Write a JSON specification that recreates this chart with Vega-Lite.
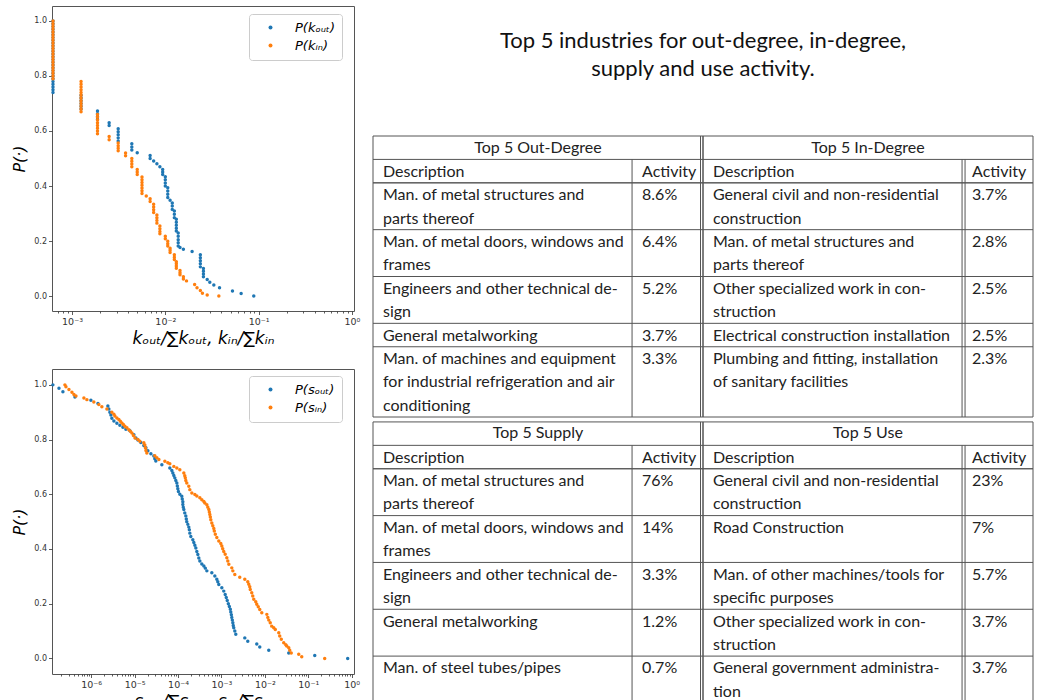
{
  "$schema": "https://vega.github.io/schema/vega-lite/v6.json",
  "background": "white",
  "padding": {"left": 11, "top": 5, "right": 0, "bottom": 0},
  "config": {
    "font": "DejaVu Sans",
    "axis": {
      "domain": false, "grid": false,
      "labelFont": "DejaVu Sans", "labelFontSize": 8, "labelColor": "#333",
      "tickColor": "#333", "tickWidth": 0.8, "labelPadding": 2,
      "labelOverlap": false, "labelFlush": false,
      "titleFont": "DejaVu Sans", "titleFontStyle": "italic", "titleFontWeight": "normal",
      "titleColor": "#000"
    },
    "legend": {
      "orient": "none", "title": null,
      "labelFont": "DejaVu Sans", "labelFontStyle": "italic", "labelFontSize": 13, "labelColor": "#000",
      "symbolType": "circle", "symbolSize": 16, "symbolStrokeWidth": 0,
      "strokeColor": "#ccc", "fillColor": "#fff", "cornerRadius": 3,
      "padding": 7, "rowPadding": 4, "symbolOffset": 8, "labelOffset": 18
    }
  },
  "datasets": {
    "kdeg": [
      {"s":"out","x":0.000625,"y":1},{"s":"out","x":0.000625,"y":0.99},{"s":"out","x":0.000625,"y":0.98},{"s":"out","x":0.000625,"y":0.97},{"s":"out","x":0.000625,"y":0.96},{"s":"out","x":0.000625,"y":0.95},{"s":"out","x":0.000625,"y":0.94},{"s":"out","x":0.000625,"y":0.93},{"s":"out","x":0.000625,"y":0.92},{"s":"out","x":0.000625,"y":0.91},{"s":"out","x":0.000625,"y":0.9},{"s":"out","x":0.000625,"y":0.89},{"s":"out","x":0.000625,"y":0.88},{"s":"out","x":0.000625,"y":0.87},{"s":"out","x":0.000625,"y":0.86},{"s":"out","x":0.000625,"y":0.85},{"s":"out","x":0.000625,"y":0.84},{"s":"out","x":0.000625,"y":0.83},{"s":"out","x":0.000625,"y":0.82},{"s":"out","x":0.000625,"y":0.81},{"s":"out","x":0.000625,"y":0.8},{"s":"out","x":0.000625,"y":0.79},{"s":"out","x":0.000625,"y":0.78},{"s":"out","x":0.000625,"y":0.77},{"s":"out","x":0.000625,"y":0.76},{"s":"out","x":0.000625,"y":0.75},{"s":"out","x":0.000625,"y":0.74},
      {"s":"out","x":0.00125,"y":0.73},{"s":"out","x":0.00125,"y":0.72},{"s":"out","x":0.00125,"y":0.71},{"s":"out","x":0.00125,"y":0.7},{"s":"out","x":0.00125,"y":0.69},{"s":"out","x":0.00125,"y":0.68},
      {"s":"out","x":0.001875,"y":0.673},{"s":"out","x":0.001875,"y":0.663},{"s":"out","x":0.001875,"y":0.653},{"s":"out","x":0.001875,"y":0.643},
      {"s":"out","x":0.0025,"y":0.63},{"s":"out","x":0.0025,"y":0.62},
      {"s":"out","x":0.003125,"y":0.608},{"s":"out","x":0.003125,"y":0.597},{"s":"out","x":0.003125,"y":0.586},{"s":"out","x":0.003125,"y":0.575},{"s":"out","x":0.003125,"y":0.564},
      {"s":"out","x":0.004375,"y":0.554},{"s":"out","x":0.004375,"y":0.542},{"s":"out","x":0.004375,"y":0.531},
      {"s":"out","x":0.005,"y":0.521},
      {"s":"out","x":0.006875,"y":0.511},{"s":"out","x":0.006875,"y":0.5},
      {"s":"out","x":0.0075,"y":0.491},
      {"s":"out","x":0.008125,"y":0.481},
      {"s":"out","x":0.00875,"y":0.47},
      {"s":"out","x":0.009375,"y":0.46},{"s":"out","x":0.009375,"y":0.451},{"s":"out","x":0.009375,"y":0.442},
      {"s":"out","x":0.01,"y":0.434},{"s":"out","x":0.01,"y":0.423},{"s":"out","x":0.01,"y":0.411},{"s":"out","x":0.01,"y":0.4},
      {"s":"out","x":0.010625,"y":0.394},{"s":"out","x":0.010625,"y":0.382},{"s":"out","x":0.010625,"y":0.37},{"s":"out","x":0.010625,"y":0.358},
      {"s":"out","x":0.01125,"y":0.348},
      {"s":"out","x":0.011875,"y":0.338},{"s":"out","x":0.011875,"y":0.327},{"s":"out","x":0.011875,"y":0.315},
      {"s":"out","x":0.0125,"y":0.309},{"s":"out","x":0.0125,"y":0.297},{"s":"out","x":0.0125,"y":0.285},
      {"s":"out","x":0.013125,"y":0.279},{"s":"out","x":0.013125,"y":0.268},{"s":"out","x":0.013125,"y":0.257},{"s":"out","x":0.013125,"y":0.246},{"s":"out","x":0.013125,"y":0.236},
      {"s":"out","x":0.01375,"y":0.229},{"s":"out","x":0.01375,"y":0.217},{"s":"out","x":0.01375,"y":0.205},{"s":"out","x":0.01375,"y":0.194},{"s":"out","x":0.01375,"y":0.182},
      {"s":"out","x":0.014375,"y":0.176},
      {"s":"out","x":0.015625,"y":0.17},
      {"s":"out","x":0.019375,"y":0.162},
      {"s":"out","x":0.02375,"y":0.15},{"s":"out","x":0.02375,"y":0.139},{"s":"out","x":0.02375,"y":0.128},{"s":"out","x":0.02375,"y":0.117},{"s":"out","x":0.02375,"y":0.106},
      {"s":"out","x":0.025625,"y":0.1},{"s":"out","x":0.025625,"y":0.09},{"s":"out","x":0.025625,"y":0.08},{"s":"out","x":0.025625,"y":0.07},
      {"s":"out","x":0.028125,"y":0.06},
      {"s":"out","x":0.03,"y":0.05},
      {"s":"out","x":0.033125,"y":0.04},
      {"s":"out","x":0.038125,"y":0.03},
      {"s":"out","x":0.0525,"y":0.018},
      {"s":"out","x":0.065,"y":0.009},
      {"s":"out","x":0.08875,"y":0},
      {"s":"in","x":0.000625,"y":1},{"s":"in","x":0.000625,"y":0.99},{"s":"in","x":0.000625,"y":0.98},{"s":"in","x":0.000625,"y":0.97},{"s":"in","x":0.000625,"y":0.96},{"s":"in","x":0.000625,"y":0.95},{"s":"in","x":0.000625,"y":0.94},{"s":"in","x":0.000625,"y":0.93},{"s":"in","x":0.000625,"y":0.92},{"s":"in","x":0.000625,"y":0.91},{"s":"in","x":0.000625,"y":0.9},{"s":"in","x":0.000625,"y":0.89},{"s":"in","x":0.000625,"y":0.88},{"s":"in","x":0.000625,"y":0.87},{"s":"in","x":0.000625,"y":0.86},{"s":"in","x":0.000625,"y":0.85},{"s":"in","x":0.000625,"y":0.84},{"s":"in","x":0.000625,"y":0.83},{"s":"in","x":0.000625,"y":0.82},{"s":"in","x":0.000625,"y":0.81},{"s":"in","x":0.000625,"y":0.8},{"s":"in","x":0.000625,"y":0.79},
      {"s":"in","x":0.00125,"y":0.78},{"s":"in","x":0.00125,"y":0.77},{"s":"in","x":0.00125,"y":0.76},{"s":"in","x":0.00125,"y":0.75},{"s":"in","x":0.00125,"y":0.74},{"s":"in","x":0.00125,"y":0.73},{"s":"in","x":0.00125,"y":0.72},{"s":"in","x":0.00125,"y":0.71},{"s":"in","x":0.00125,"y":0.7},{"s":"in","x":0.00125,"y":0.69},{"s":"in","x":0.00125,"y":0.68},{"s":"in","x":0.00125,"y":0.67},
      {"s":"in","x":0.001875,"y":0.66},{"s":"in","x":0.001875,"y":0.65},{"s":"in","x":0.001875,"y":0.64},{"s":"in","x":0.001875,"y":0.63},{"s":"in","x":0.001875,"y":0.62},{"s":"in","x":0.001875,"y":0.61},{"s":"in","x":0.001875,"y":0.6},{"s":"in","x":0.001875,"y":0.59},
      {"s":"in","x":0.0025,"y":0.58},{"s":"in","x":0.0025,"y":0.568},
      {"s":"in","x":0.003125,"y":0.556},{"s":"in","x":0.003125,"y":0.546},{"s":"in","x":0.003125,"y":0.537},{"s":"in","x":0.003125,"y":0.528},
      {"s":"in","x":0.00375,"y":0.52},{"s":"in","x":0.00375,"y":0.51},
      {"s":"in","x":0.004375,"y":0.5},{"s":"in","x":0.004375,"y":0.49},{"s":"in","x":0.004375,"y":0.48},{"s":"in","x":0.004375,"y":0.47},
      {"s":"in","x":0.005,"y":0.46},{"s":"in","x":0.005,"y":0.451},{"s":"in","x":0.005,"y":0.442},
      {"s":"in","x":0.005625,"y":0.433},{"s":"in","x":0.005625,"y":0.423},{"s":"in","x":0.005625,"y":0.413},{"s":"in","x":0.005625,"y":0.403},{"s":"in","x":0.005625,"y":0.393},{"s":"in","x":0.005625,"y":0.383},{"s":"in","x":0.005625,"y":0.373},
      {"s":"in","x":0.00625,"y":0.364},
      {"s":"in","x":0.006875,"y":0.354},{"s":"in","x":0.006875,"y":0.344},
      {"s":"in","x":0.0075,"y":0.334},{"s":"in","x":0.0075,"y":0.324},{"s":"in","x":0.0075,"y":0.314},{"s":"in","x":0.0075,"y":0.304},
      {"s":"in","x":0.008125,"y":0.295},{"s":"in","x":0.008125,"y":0.285},{"s":"in","x":0.008125,"y":0.275},{"s":"in","x":0.008125,"y":0.265},
      {"s":"in","x":0.00875,"y":0.255},{"s":"in","x":0.00875,"y":0.245},{"s":"in","x":0.00875,"y":0.235},{"s":"in","x":0.00875,"y":0.226},
      {"s":"in","x":0.01,"y":0.217},{"s":"in","x":0.01,"y":0.208},
      {"s":"in","x":0.010625,"y":0.199},{"s":"in","x":0.010625,"y":0.19},{"s":"in","x":0.010625,"y":0.182},
      {"s":"in","x":0.01125,"y":0.174},{"s":"in","x":0.01125,"y":0.166},{"s":"in","x":0.01125,"y":0.158},
      {"s":"in","x":0.0125,"y":0.15},{"s":"in","x":0.0125,"y":0.141},{"s":"in","x":0.0125,"y":0.133},
      {"s":"in","x":0.013125,"y":0.125},{"s":"in","x":0.013125,"y":0.117},{"s":"in","x":0.013125,"y":0.109},{"s":"in","x":0.013125,"y":0.101},
      {"s":"in","x":0.014375,"y":0.093},{"s":"in","x":0.014375,"y":0.085},{"s":"in","x":0.014375,"y":0.077},
      {"s":"in","x":0.015625,"y":0.07},{"s":"in","x":0.015625,"y":0.062},
      {"s":"in","x":0.016875,"y":0.055},
      {"s":"in","x":0.020625,"y":0.042},
      {"s":"in","x":0.021875,"y":0.03},
      {"s":"in","x":0.02375,"y":0.02},
      {"s":"in","x":0.025,"y":0.01},
      {"s":"in","x":0.028125,"y":0.004},
      {"s":"in","x":0.0375,"y":0}
    ],
    "strength": [
      {"s":"out","x":1.31e-7,"y":1},{"s":"out","x":1.81e-7,"y":0.988},{"s":"out","x":2.23e-7,"y":0.975},{"s":"out","x":4.22e-7,"y":0.956},{"s":"out","x":9.84e-7,"y":0.944},{"s":"out","x":1.43e-6,"y":0.932},{"s":"out","x":2.42e-6,"y":0.923},{"s":"out","x":2.55e-6,"y":0.912},{"s":"out","x":2.69e-6,"y":0.9},{"s":"out","x":2.84e-6,"y":0.89},{"s":"out","x":2.99e-6,"y":0.878},{"s":"out","x":3.33e-6,"y":0.868},{"s":"out","x":3.9e-6,"y":0.86},{"s":"out","x":4.57e-6,"y":0.852},{"s":"out","x":5.37e-6,"y":0.845},{"s":"out","x":6.29e-6,"y":0.838},{"s":"out","x":7.78e-6,"y":0.832},{"s":"out","x":9.62e-6,"y":0.818},{"s":"out","x":1.07e-5,"y":0.806},{"s":"out","x":1.19e-5,"y":0.798},{"s":"out","x":1.39e-5,"y":0.789},{"s":"out","x":1.63e-5,"y":0.778},{"s":"out","x":1.82e-5,"y":0.77},{"s":"out","x":2.02e-5,"y":0.759},{"s":"out","x":2.37e-5,"y":0.748},{"s":"out","x":2.77e-5,"y":0.74},{"s":"out","x":2.92e-5,"y":0.73},{"s":"out","x":3.08e-5,"y":0.722},{"s":"out","x":4.24e-5,"y":0.708},{"s":"out","x":6.47e-5,"y":0.696},{"s":"out","x":7.2e-5,"y":0.687},{"s":"out","x":7.59e-5,"y":0.678},{"s":"out","x":8.0e-5,"y":0.669},{"s":"out","x":8.43e-5,"y":0.66},{"s":"out","x":8.89e-5,"y":0.65},{"s":"out","x":9.38e-5,"y":0.641},{"s":"out","x":9.63e-5,"y":0.63},{"s":"out","x":9.89e-5,"y":0.62},{"s":"out","x":1.02e-4,"y":0.61},{"s":"out","x":1.1e-4,"y":0.6},{"s":"out","x":1.22e-4,"y":0.593},{"s":"out","x":1.25e-4,"y":0.583},{"s":"out","x":1.29e-4,"y":0.573},{"s":"out","x":1.29e-4,"y":0.563},{"s":"out","x":1.32e-4,"y":0.553},{"s":"out","x":1.36e-4,"y":0.544},{"s":"out","x":1.43e-4,"y":0.532},{"s":"out","x":1.51e-4,"y":0.521},{"s":"out","x":1.55e-4,"y":0.51},{"s":"out","x":1.59e-4,"y":0.5},{"s":"out","x":1.68e-4,"y":0.49},{"s":"out","x":1.77e-4,"y":0.48},{"s":"out","x":1.82e-4,"y":0.47},{"s":"out","x":1.87e-4,"y":0.458},{"s":"out","x":1.97e-4,"y":0.446},{"s":"out","x":2.19e-4,"y":0.434},{"s":"out","x":2.31e-4,"y":0.424},{"s":"out","x":2.44e-4,"y":0.414},{"s":"out","x":2.57e-4,"y":0.404},{"s":"out","x":2.71e-4,"y":0.391},{"s":"out","x":2.86e-4,"y":0.38},{"s":"out","x":3.01e-4,"y":0.367},{"s":"out","x":3.18e-4,"y":0.356},{"s":"out","x":3.53e-4,"y":0.345},{"s":"out","x":3.93e-4,"y":0.338},{"s":"out","x":4.25e-4,"y":0.33},{"s":"out","x":4.61e-4,"y":0.32},{"s":"out","x":6.0e-4,"y":0.313},{"s":"out","x":7.04e-4,"y":0.301},{"s":"out","x":7.82e-4,"y":0.289},{"s":"out","x":8.24e-4,"y":0.28},{"s":"out","x":8.69e-4,"y":0.27},{"s":"out","x":1.02e-3,"y":0.258},{"s":"out","x":1.13e-3,"y":0.246},{"s":"out","x":1.22e-3,"y":0.234},{"s":"out","x":1.29e-3,"y":0.223},{"s":"out","x":1.36e-3,"y":0.212},{"s":"out","x":1.44e-3,"y":0.2},{"s":"out","x":1.52e-3,"y":0.19},{"s":"out","x":1.6e-3,"y":0.18},{"s":"out","x":1.64e-3,"y":0.17},{"s":"out","x":1.69e-3,"y":0.16},{"s":"out","x":1.73e-3,"y":0.15},{"s":"out","x":1.78e-3,"y":0.14},{"s":"out","x":1.83e-3,"y":0.13},{"s":"out","x":1.87e-3,"y":0.12},{"s":"out","x":1.92e-3,"y":0.112},{"s":"out","x":2.03e-3,"y":0.1},{"s":"out","x":2.14e-3,"y":0.088},{"s":"out","x":3.45e-3,"y":0.075},{"s":"out","x":4.04e-3,"y":0.063},{"s":"out","x":6.51e-3,"y":0.053},{"s":"out","x":7.63e-3,"y":0.042},{"s":"out","x":1.23e-2,"y":0.03},{"s":"out","x":3.55e-2,"y":0.02},{"s":"out","x":0.141,"y":0.011},{"s":"out","x":0.809,"y":0},
      {"s":"in","x":2.48e-7,"y":1},{"s":"in","x":2.62e-7,"y":0.993},{"s":"in","x":3.07e-7,"y":0.983},{"s":"in","x":3.6e-7,"y":0.973},{"s":"in","x":4.0e-7,"y":0.965},{"s":"in","x":4.45e-7,"y":0.959},{"s":"in","x":6.79e-7,"y":0.952},{"s":"in","x":7.96e-7,"y":0.946},{"s":"in","x":1.15e-6,"y":0.937},{"s":"in","x":1.5e-6,"y":0.928},{"s":"in","x":1.76e-6,"y":0.92},{"s":"in","x":2.3e-6,"y":0.912},{"s":"in","x":2.99e-6,"y":0.9},{"s":"in","x":3.33e-6,"y":0.893},{"s":"in","x":3.51e-6,"y":0.886},{"s":"in","x":3.9e-6,"y":0.879},{"s":"in","x":4.33e-6,"y":0.873},{"s":"in","x":4.69e-6,"y":0.867},{"s":"in","x":5.08e-6,"y":0.861},{"s":"in","x":5.5e-6,"y":0.855},{"s":"in","x":5.97e-6,"y":0.849},{"s":"in","x":6.64e-6,"y":0.843},{"s":"in","x":7.38e-6,"y":0.836},{"s":"in","x":7.99e-6,"y":0.83},{"s":"in","x":8.65e-6,"y":0.824},{"s":"in","x":9.37e-6,"y":0.815},{"s":"in","x":1.02e-5,"y":0.806},{"s":"in","x":1.19e-5,"y":0.8},{"s":"in","x":1.32e-5,"y":0.794},{"s":"in","x":1.63e-5,"y":0.788},{"s":"in","x":1.72e-5,"y":0.78},{"s":"in","x":1.77e-5,"y":0.77},{"s":"in","x":1.82e-5,"y":0.76},{"s":"in","x":1.91e-5,"y":0.751},{"s":"in","x":2.92e-5,"y":0.741},{"s":"in","x":3.25e-5,"y":0.734},{"s":"in","x":3.62e-5,"y":0.727},{"s":"in","x":4.97e-5,"y":0.721},{"s":"in","x":5.82e-5,"y":0.715},{"s":"in","x":6.47e-5,"y":0.712},{"s":"in","x":8.0e-5,"y":0.702},{"s":"in","x":9.38e-5,"y":0.696},{"s":"in","x":1.1e-4,"y":0.69},{"s":"in","x":1.36e-4,"y":0.678},{"s":"in","x":1.43e-4,"y":0.668},{"s":"in","x":1.47e-4,"y":0.66},{"s":"in","x":1.51e-4,"y":0.65},{"s":"in","x":1.59e-4,"y":0.641},{"s":"in","x":1.77e-4,"y":0.629},{"s":"in","x":1.87e-4,"y":0.617},{"s":"in","x":2.08e-4,"y":0.605},{"s":"in","x":2.44e-4,"y":0.599},{"s":"in","x":2.71e-4,"y":0.594},{"s":"in","x":3.18e-4,"y":0.587},{"s":"in","x":3.53e-4,"y":0.58},{"s":"in","x":3.93e-4,"y":0.574},{"s":"in","x":4.14e-4,"y":0.568},{"s":"in","x":4.61e-4,"y":0.562},{"s":"in","x":4.85e-4,"y":0.553},{"s":"in","x":5.12e-4,"y":0.544},{"s":"in","x":5.26e-4,"y":0.535},{"s":"in","x":5.4e-4,"y":0.526},{"s":"in","x":5.54e-4,"y":0.517},{"s":"in","x":5.69e-4,"y":0.507},{"s":"in","x":6.0e-4,"y":0.495},{"s":"in","x":6.32e-4,"y":0.485},{"s":"in","x":6.67e-4,"y":0.475},{"s":"in","x":6.84e-4,"y":0.466},{"s":"in","x":7.22e-4,"y":0.454},{"s":"in","x":7.82e-4,"y":0.442},{"s":"in","x":8.69e-4,"y":0.429},{"s":"in","x":9.66e-4,"y":0.42},{"s":"in","x":1.02e-3,"y":0.411},{"s":"in","x":1.07e-3,"y":0.401},{"s":"in","x":1.13e-3,"y":0.391},{"s":"in","x":1.22e-3,"y":0.381},{"s":"in","x":1.33e-3,"y":0.368},{"s":"in","x":1.4e-3,"y":0.356},{"s":"in","x":1.48e-3,"y":0.344},{"s":"in","x":1.73e-3,"y":0.331},{"s":"in","x":1.83e-3,"y":0.32},{"s":"in","x":2.03e-3,"y":0.307},{"s":"in","x":2.64e-3,"y":0.297},{"s":"in","x":3.45e-3,"y":0.289},{"s":"in","x":4.04e-3,"y":0.28},{"s":"in","x":4.26e-3,"y":0.271},{"s":"in","x":4.49e-3,"y":0.262},{"s":"in","x":4.61e-3,"y":0.252},{"s":"in","x":4.99e-3,"y":0.24},{"s":"in","x":5.26e-3,"y":0.228},{"s":"in","x":5.55e-3,"y":0.216},{"s":"in","x":6.17e-3,"y":0.207},{"s":"in","x":6.51e-3,"y":0.198},{"s":"in","x":7.04e-3,"y":0.189},{"s":"in","x":7.63e-3,"y":0.179},{"s":"in","x":8.49e-3,"y":0.167},{"s":"in","x":1.11e-2,"y":0.161},{"s":"in","x":1.17e-2,"y":0.15},{"s":"in","x":1.23e-2,"y":0.14},{"s":"in","x":1.33e-2,"y":0.13},{"s":"in","x":1.44e-2,"y":0.118},{"s":"in","x":1.6e-2,"y":0.112},{"s":"in","x":1.74e-2,"y":0.106},{"s":"in","x":2.09e-2,"y":0.094},{"s":"in","x":2.2e-2,"y":0.082},{"s":"in","x":2.39e-2,"y":0.07},{"s":"in","x":2.72e-2,"y":0.057},{"s":"in","x":3.03e-2,"y":0.05},{"s":"in","x":3.19e-2,"y":0.045},{"s":"in","x":3.55e-2,"y":0.039},{"s":"in","x":3.74e-2,"y":0.03},{"s":"in","x":4.05e-2,"y":0.02},{"s":"in","x":6.03e-2,"y":0.015},{"s":"in","x":7.07e-2,"y":0.006},{"s":"in","x":0.239,"y":0}
    ],
    "heads": [
      {"part":"upper","half":0,"title":"Top 5 Out-Degree"},
      {"part":"upper","half":1,"title":"Top 5 In-Degree"},
      {"part":"lower","half":0,"title":"Top 5 Supply"},
      {"part":"lower","half":1,"title":"Top 5 Use"}
    ],
    "rows": [
      {"part":"upper","half":0,"rank":1,"desc":["Man.  of metal structures and","parts thereof"],"act":"8.6%"},
      {"part":"upper","half":0,"rank":2,"desc":["Man. of metal doors, windows and","frames"],"act":"6.4%"},
      {"part":"upper","half":0,"rank":3,"desc":["Engineers and other technical de-","sign"],"act":"5.2%"},
      {"part":"upper","half":0,"rank":4,"desc":["General metalworking"],"act":"3.7%"},
      {"part":"upper","half":0,"rank":5,"desc":["Man. of machines and equipment","for industrial refrigeration and air","conditioning"],"act":"3.3%"},
      {"part":"upper","half":1,"rank":1,"desc":["General civil and non-residential","construction"],"act":"3.7%"},
      {"part":"upper","half":1,"rank":2,"desc":["Man.  of metal structures and","parts thereof"],"act":"2.8%"},
      {"part":"upper","half":1,"rank":3,"desc":["Other specialized work in con-","struction"],"act":"2.5%"},
      {"part":"upper","half":1,"rank":4,"desc":["Electrical construction installation"],"act":"2.5%"},
      {"part":"upper","half":1,"rank":5,"desc":["Plumbing and fitting, installation","of sanitary facilities"],"act":"2.3%"},
      {"part":"lower","half":0,"rank":1,"desc":["Man.  of metal structures and","parts thereof"],"act":"76%"},
      {"part":"lower","half":0,"rank":2,"desc":["Man. of metal doors, windows and","frames"],"act":"14%"},
      {"part":"lower","half":0,"rank":3,"desc":["Engineers and other technical de-","sign"],"act":"3.3%"},
      {"part":"lower","half":0,"rank":4,"desc":["General metalworking"],"act":"1.2%"},
      {"part":"lower","half":0,"rank":5,"desc":["Man. of steel tubes/pipes"],"act":"0.7%"},
      {"part":"lower","half":1,"rank":1,"desc":["General civil and non-residential","construction"],"act":"23%"},
      {"part":"lower","half":1,"rank":2,"desc":["Road Construction"],"act":"7%"},
      {"part":"lower","half":1,"rank":3,"desc":["Man. of other machines/tools for","specific purposes"],"act":"5.7%"},
      {"part":"lower","half":1,"rank":4,"desc":["Other specialized work in con-","struction"],"act":"3.7%"},
      {"part":"lower","half":1,"rank":5,"desc":["General government administra-","tion"],"act":"3.7%"}
    ]
  },
  "hconcat": [
    {
      "vconcat": [
        {
          "width": 302, "height": 305,
          "view": {"stroke": "#555", "strokeWidth": 1},
          "data": {"name": "kdeg"},
          "mark": {"type": "circle", "size": 12, "opacity": 1},
          "encoding": {
            "x": {
              "field": "x", "type": "quantitative",
              "scale": {"type": "log", "domain": [0.00061, 1.054], "nice": false},
              "axis": {
                "values": [0.0007,0.0008,0.0009,0.001,0.002,0.003,0.004,0.005,0.006,0.007,0.008,0.009,0.01,0.02,0.03,0.04,0.05,0.06,0.07,0.08,0.09,0.1,0.2,0.3,0.4,0.5,0.6,0.7,0.8,0.9,1],
                "labelExpr": "abs(log(datum.value)/LN10 - round(log(datum.value)/LN10)) < 0.001 ? '10' + (round(log(datum.value)/LN10) < 0 ? '⁻' : '') + ['⁰','¹','²','³','⁴','⁵','⁶','⁷'][abs(round(log(datum.value)/LN10))] : ''",
                "tickSize": {"condition": {"test": "abs(log(datum.value)/LN10 - round(log(datum.value)/LN10)) < 0.001", "value": 3.5}, "value": 2},
                "labelFontSize": 9.5,
                "title": "kₒᵤₜ/∑kₒᵤₜ, kᵢₙ/∑kᵢₙ", "titleFontSize": 17, "titlePadding": 4
              }
            },
            "y": {
              "field": "y", "type": "quantitative",
              "scale": {"domain": [-0.0545, 1.0545], "nice": false, "zero": false},
              "axis": {"values": [0, 0.2, 0.4, 0.6, 0.8, 1], "format": ".1f", "tickSize": 3.5, "title": "P(·)", "titleFontSize": 16, "titlePadding": 6}
            },
            "color": {
              "field": "s", "type": "nominal",
              "scale": {"domain": ["out", "in"], "range": ["#1f77b4", "#ff7f0e"]},
              "legend": {"legendX": 197, "legendY": 8, "labelExpr": "datum.label == 'out' ? 'P(kₒᵤₜ)' : 'P(kᵢₙ)'"}
            }
          }
        },
        {
          "width": 302, "height": 305,
          "view": {"stroke": "#555", "strokeWidth": 1},
          "data": {"name": "strength"},
          "mark": {"type": "circle", "size": 12, "opacity": 1},
          "encoding": {
            "x": {
              "field": "x", "type": "quantitative",
              "scale": {"type": "log", "domain": [1.25e-7, 1.13], "nice": false},
              "axis": {
                "values": [2e-7,3e-7,4e-7,5e-7,6e-7,7e-7,8e-7,9e-7,1e-6,2e-6,3e-6,4e-6,5e-6,6e-6,7e-6,8e-6,9e-6,1e-5,2e-5,3e-5,4e-5,5e-5,6e-5,7e-5,8e-5,9e-5,1e-4,2e-4,3e-4,4e-4,5e-4,6e-4,7e-4,8e-4,9e-4,0.001,0.002,0.003,0.004,0.005,0.006,0.007,0.008,0.009,0.01,0.02,0.03,0.04,0.05,0.06,0.07,0.08,0.09,0.1,0.2,0.3,0.4,0.5,0.6,0.7,0.8,0.9,1],
                "labelExpr": "abs(log(datum.value)/LN10 - round(log(datum.value)/LN10)) < 0.001 ? '10' + (round(log(datum.value)/LN10) < 0 ? '⁻' : '') + ['⁰','¹','²','³','⁴','⁵','⁶','⁷'][abs(round(log(datum.value)/LN10))] : ''",
                "tickSize": {"condition": {"test": "abs(log(datum.value)/LN10 - round(log(datum.value)/LN10)) < 0.001", "value": 3.5}, "value": 2},
                "labelFontSize": 9.5,
                "title": "sₒᵤₜ/∑sₒᵤₜ, sᵢₙ/∑sᵢₙ", "titleFontSize": 17, "titlePadding": 4
              }
            },
            "y": {
              "field": "y", "type": "quantitative",
              "scale": {"domain": [-0.057, 1.058], "nice": false, "zero": false},
              "axis": {"values": [0, 0.2, 0.4, 0.6, 0.8, 1], "format": ".1f", "tickSize": 3.5, "title": "P(·)", "titleFontSize": 16, "titlePadding": 6}
            },
            "color": {
              "field": "s", "type": "nominal",
              "scale": {"domain": ["out", "in"], "range": ["#1f77b4", "#ff7f0e"]},
              "legend": {"legendX": 197, "legendY": 7, "labelExpr": "datum.label == 'out' ? 'P(sₒᵤₜ)' : 'P(sᵢₙ)'"}
            }
          }
        }
      ],
      "spacing": 58,
      "bounds": "flush",
      "resolve": {"scale": {"x": "independent", "y": "independent", "color": "independent"}, "legend": {"color": "independent"}}
    },
    {
      "vconcat": [
        {
          "width": 660, "height": 112,
          "view": {"stroke": null},
          "data": {"values": [
            {"ln": 1, "t": "Top 5 industries for out-degree, in-degree,"},
            {"ln": 2, "t": "supply and use activity."}
          ]},
          "mark": {"type": "text", "font": "Lato", "fontSize": 22, "color": "#111", "baseline": "middle", "align": "center"},
          "encoding": {
            "y": {"field": "ln", "type": "quantitative", "scale": {"domain": [-0.25, 3.75], "reverse": true, "nice": false, "zero": false}, "axis": null},
            "text": {"field": "t", "type": "nominal"}
          }
        },
        {
          "width": 660, "height": 566,
          "view": {"stroke": null},
          "encoding": {
            "x": {"field": "xp", "type": "quantitative", "scale": {"domain": [0, 2], "nice": false, "zero": false}, "axis": null},
            "y": {"field": "yp", "type": "quantitative", "scale": {"domain": [0, 24.17], "nice": false, "zero": false, "reverse": true}, "axis": null}
          },
          "layer": [
            {
              "data": {"name": "heads"},
              "transform": [
                {"calculate": "datum.part === 'upper' ? 0 : 12.21", "as": "base"}
              ],
              "layer": [
                {
                  "transform": [
                    {"calculate": "datum.base", "as": "l0"},
                    {"calculate": "datum.base + 1", "as": "l1"},
                    {"calculate": "datum.base + 2", "as": "l2"},
                    {"calculate": "datum.base + 12", "as": "l3"},
                    {"fold": ["l0", "l1", "l2", "l3"], "as": ["k", "yp"]},
                    {"calculate": "datum.half", "as": "xp"},
                    {"calculate": "datum.half + 1", "as": "xp2"}
                  ],
                  "mark": {"type": "rule", "color": "#555", "strokeWidth": 1},
                  "encoding": {"x2": {"field": "xp2"}}
                },
                {
                  "transform": [
                    {"calculate": "datum.half", "as": "va"},
                    {"calculate": "datum.half + 1", "as": "vb"},
                    {"fold": ["va", "vb"], "as": ["k", "xp"]},
                    {"calculate": "datum.base", "as": "yp"},
                    {"calculate": "datum.base + 12", "as": "yp2"}
                  ],
                  "mark": {"type": "rule", "color": "#555", "strokeWidth": 1},
                  "encoding": {"y2": {"field": "yp2"}}
                },
                {
                  "transform": [
                    {"filter": "datum.half === 0"},
                    {"calculate": "datum.half + 1", "as": "xp"},
                    {"calculate": "datum.base", "as": "yp"},
                    {"calculate": "datum.base + 12", "as": "yp2"}
                  ],
                  "mark": {"type": "rule", "color": "#555", "strokeWidth": 1, "xOffset": -2.5},
                  "encoding": {"y2": {"field": "yp2"}}
                },
                {
                  "transform": [
                    {"calculate": "datum.half + 0.785", "as": "xp"},
                    {"calculate": "datum.base + 1", "as": "yp"},
                    {"calculate": "datum.base + 12", "as": "yp2"}
                  ],
                  "mark": {"type": "rule", "color": "#555", "strokeWidth": 1},
                  "encoding": {"y2": {"field": "yp2"}}
                },
                {
                  "transform": [
                    {"filter": "datum.half === 1"},
                    {"calculate": "datum.half + 0.785", "as": "xp"},
                    {"calculate": "datum.base + 1", "as": "yp"},
                    {"calculate": "datum.base + 12", "as": "yp2"}
                  ],
                  "mark": {"type": "rule", "color": "#555", "strokeWidth": 1, "xOffset": 3},
                  "encoding": {"y2": {"field": "yp2"}}
                },
                {
                  "transform": [
                    {"calculate": "datum.half + 0.5", "as": "xp"},
                    {"calculate": "datum.base", "as": "yp"}
                  ],
                  "mark": {"type": "text", "font": "Lato", "fontSize": 16, "color": "#222", "align": "center", "baseline": "alphabetic", "dy": 16.5},
                  "encoding": {"text": {"field": "title", "type": "nominal"}}
                },
                {
                  "transform": [
                    {"calculate": "datum.half", "as": "xp"},
                    {"calculate": "datum.base + 1", "as": "yp"}
                  ],
                  "mark": {"type": "text", "font": "Lato", "fontSize": 16, "color": "#222", "align": "left", "baseline": "alphabetic", "dx": 10, "dy": 17.5},
                  "encoding": {"text": {"value": "Description"}}
                },
                {
                  "transform": [
                    {"calculate": "datum.half + 0.785", "as": "xp"},
                    {"calculate": "datum.base + 1", "as": "yp"}
                  ],
                  "mark": {"type": "text", "font": "Lato", "fontSize": 16, "color": "#222", "align": "left", "baseline": "alphabetic", "dx": 10, "dy": 17.5},
                  "encoding": {"text": {"value": "Activity"}}
                }
              ]
            },
            {
              "data": {"name": "rows"},
              "transform": [
                {"calculate": "length(datum.desc)", "as": "n"},
                {"joinaggregate": [{"op": "max", "field": "n", "as": "h"}], "groupby": ["part", "rank"]},
                {"window": [{"op": "sum", "field": "h", "as": "cum"}], "sort": [{"field": "rank"}], "groupby": ["part", "half"], "frame": [null, 0]},
                {"calculate": "(datum.part === 'upper' ? 0 : 12.21) + 2 + datum.cum - datum.h", "as": "yp"},
                {"calculate": "datum.half", "as": "xp"},
                {"calculate": "datum.half + 1", "as": "xp2"},
                {"calculate": "datum.half + 0.785", "as": "xa"}
              ],
              "layer": [
                {
                  "mark": {"type": "rule", "color": "#555", "strokeWidth": 1},
                  "encoding": {"x2": {"field": "xp2"}}
                },
                {
                  "mark": {"type": "text", "font": "Lato", "fontSize": 16, "color": "#222", "align": "left", "baseline": "alphabetic", "dx": 10, "dy": 17.3, "lineHeight": 23.42},
                  "encoding": {"text": {"field": "desc", "type": "nominal"}}
                },
                {
                  "mark": {"type": "text", "font": "Lato", "fontSize": 16, "color": "#222", "align": "left", "baseline": "alphabetic", "dx": 10, "dy": 17.3},
                  "encoding": {"x": {"field": "xa", "type": "quantitative"}, "text": {"field": "act", "type": "nominal"}}
                }
              ]
            }
          ]
        }
      ],
      "spacing": 18,
      "bounds": "flush",
      "resolve": {"scale": {"x": "independent", "y": "independent"}}
    }
  ],
  "spacing": 11,
  "resolve": {"scale": {"x": "independent", "y": "independent", "color": "independent"}, "legend": {"color": "independent"}}
}
